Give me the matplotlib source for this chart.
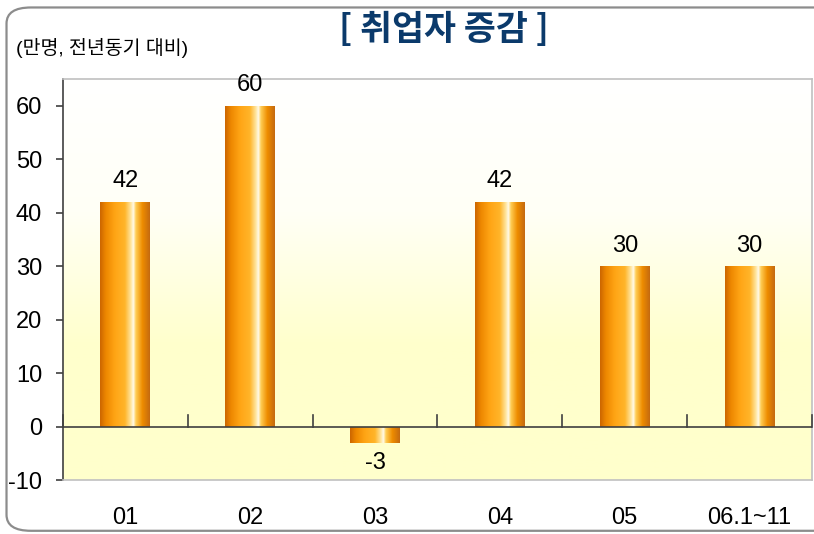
import numpy as np
import matplotlib.pyplot as plt
from matplotlib.colors import LinearSegmentedColormap
from matplotlib.patches import FancyBboxPatch
import matplotlib.transforms as mtransforms

plt.rcParams['font.family'] = ['Liberation Sans', 'Noto Sans CJK KR', 'DejaVu Sans']

# data
categories = ['01', '02', '03', '04', '05', '06.1~11']
values = [42, 60, -3, 42, 30, 30]
yticks = [-10, 0, 10, 20, 30, 40, 50, 60]

fig = plt.figure(figsize=(8.14, 5.34), dpi=100)
fig.patch.set_facecolor('white')

# rounded outer frame
frame = FancyBboxPatch((0.008, 0.006), 1.2, 0.98, boxstyle='round,pad=0,rounding_size=0.03',
                       transform=fig.transFigure, facecolor='none', edgecolor='#8c8c8c',
                       linewidth=1.6, zorder=0)
fig.patches.append(frame)

ax = fig.add_axes([0.0774, 0.1011, 0.9201, 0.751])
x = np.arange(len(categories))
ax.set_xlim(-0.5, len(categories) - 0.5)
ax.set_ylim(-10, 65)

# background gradient: white at top -> pale yellow
bg = LinearSegmentedColormap.from_list('bg', ['#FFFFCC', '#FFFFCC', '#FFFFF6', '#FFFFFF'])
grad = np.linspace(0, 1, 256).reshape(-1, 1)
ax.imshow(grad, cmap=bg, aspect='auto', origin='lower',
          extent=[-0.5, len(categories) - 0.5, -10, 65], zorder=0)

# bar gradient across width
barcm = LinearSegmentedColormap.from_list('bar', [
    (0.0, '#CC6600'), (0.12, '#EE8800'), (0.3, '#FFA515'), (0.5, '#FFB52A'),
    (0.62, '#FFE6A0'), (0.67, '#FFFBEA'), (0.72, '#FFCD55'), (0.85, '#EE8C00'),
    (1.0, '#C46A10')])
hgrad = np.linspace(0, 1, 256).reshape(1, -1)
w = 0.4
bars = ax.bar(x, values, width=w, color='none', zorder=2)
for b, v in zip(bars, values):
    x0 = b.get_x()
    im = ax.imshow(hgrad, cmap=barcm, aspect='auto',
                   extent=[x0, x0 + w, min(0, v), max(0, v)], zorder=2)
    im.set_clip_path(b)

# value labels
for xi, v in zip(x, values):
    if v >= 0:
        ax.text(xi, v + 1.8, str(v), ha='center', va='bottom', fontsize=17, zorder=5,
                clip_on=False)
    else:
        ax.text(xi, v - 1.8, str(v), ha='center', va='top', fontsize=17)

# zero line with category-boundary ticks
ax.axhline(0, color='#404040', linewidth=1.2, zorder=3)
for b in np.arange(-0.5, len(categories), 1.0):
    ax.plot([b, b], [0, 2.2], color='#404040', linewidth=1.2, zorder=3, clip_on=False)

# spines
for s in ['top', 'right', 'bottom']:
    ax.spines[s].set_color('#c0c0c0')
    ax.spines[s].set_linewidth(1.2)
ax.spines['left'].set_color('#404040')
ax.spines['left'].set_linewidth(1.2)

ax.set_yticks(yticks)
ax.set_yticklabels([str(t) for t in yticks], fontsize=17)
ax.tick_params(axis='y', direction='out', length=5, width=1.2, color='#404040', pad=10)
ax.set_xticks([])

# category labels at bottom
trans = mtransforms.blended_transform_factory(ax.transData, fig.transFigure)
for xi, c in zip(x, categories):
    ax.text(xi, 0.03, c, transform=trans, ha='center', va='center', fontsize=17)

fig.text(0.02, 0.91, '(만명, 전년동기 대비)', fontsize=14, ha='left', va='center')
fig.text(0.545, 0.944, '[ 취업자 증감 ]', fontsize=25, fontweight='bold', color='#0B3A6B',
         ha='center', va='center', family=['Noto Sans CJK KR'])

fig.savefig('out.png', dpi=100)
